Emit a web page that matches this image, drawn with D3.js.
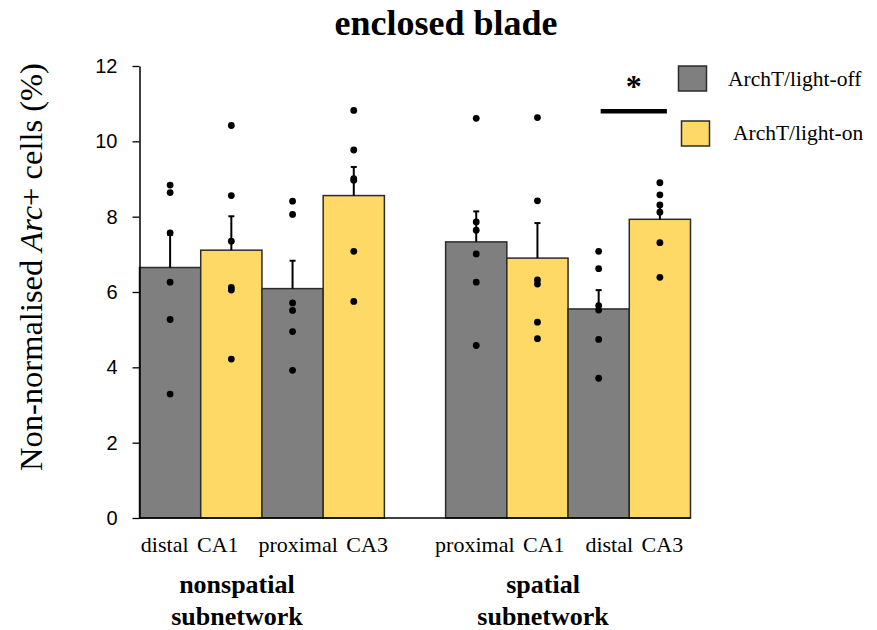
<!DOCTYPE html>
<html>
<head>
<meta charset="utf-8">
<script src="https://cdn.jsdelivr.net/npm/d3@7"></script>
<style>
  html, body { margin: 0; padding: 0; background: #fff; }
  svg { display: block; }
</style>
</head>
<body>
<svg id="chart" width="877" height="630"></svg>
<script>
// ---- data ----
const groups = ["nonspatial subnetwork", "spatial subnetwork"];
const regions = [
  ["distal CA1", "proximal CA3"],   // nonspatial
  ["proximal CA1", "distal CA3"]    // spatial
];
const series = ["ArchT/light-off", "ArchT/light-on"];
const yTicks = [0, 2, 4, 6, 8, 10, 12];

// means (%), order: distal CA1, proximal CA3, proximal CA1, distal CA3
const meanOff = [6.65, 6.09, 7.33, 5.55];
const meanOn  = [7.11, 8.56, 6.90, 7.93];
// standard error of the mean
const semOff = [0.87, 0.74, 0.81, 0.50];
const semOn  = [0.90, 0.76, 0.93, 0.38];
// individual animals
const pointsOff = [
  [8.84, 8.64, 7.57, 6.26, 5.27, 3.29],
  [8.41, 8.06, 5.71, 5.51, 4.95, 3.92],
  [10.61, 7.86, 7.64, 7.01, 6.26, 4.58],
  [7.08, 6.62, 5.64, 5.52, 4.74, 3.71]
];
const pointsOn = [
  [10.42, 8.56, 7.35, 6.12, 6.05, 4.22],
  [10.82, 9.77, 9.01, 8.97, 7.08, 5.75],
  [10.63, 8.42, 6.32, 6.21, 5.20, 4.76],
  [8.90, 8.58, 8.31, 8.12, 7.31, 6.39]
];
// significant comparison: distal CA3, light-off vs light-on
const sigRegion = 3;
const sigLevel = 10.8;
const sigMark = "*";

// ---- layout ----
const colors = { "ArchT/light-off": "#7f7f7f", "ArchT/light-on": "#fed966" };
const serif = "'Liberation Serif', 'Times New Roman', serif";
const sans = "'Liberation Sans', Arial, sans-serif";

const svg = d3.select("#chart");

// build bar records; one empty slot separates the two subnetworks
const bars = [];
const slots = [];
let r = 0;
groups.forEach((g, gi) => {
  if (gi > 0) slots.push("gap" + gi);
  regions[gi].forEach(reg => {
    [["ArchT/light-off", meanOff, semOff, pointsOff], ["ArchT/light-on", meanOn, semOn, pointsOn]]
      .forEach(([s, m, e, p]) => {
        const key = reg + "|" + s;
        slots.push(key);
        bars.push({ key, group: g, region: reg, ri: r, series: s, mean: m[r], sem: e[r], pts: p[r] });
      });
    r++;
  });
});

const x = d3.scaleBand().domain(slots).range([139.5, 690.5]).padding(0);
const y = d3.scaleLinear().domain([0, 12]).range([518, 66]);

// title
svg.append("text")
  .attr("x", 446).attr("y", 35)
  .attr("text-anchor", "middle")
  .style("font-family", serif).style("font-weight", "bold").style("font-size", "36px")
  .text("enclosed blade");

// bars
svg.append("g").selectAll("rect").data(bars).join("rect")
  .attr("x", d => x(d.key))
  .attr("y", d => y(d.mean))
  .attr("width", x.bandwidth())
  .attr("height", d => y(0) - y(d.mean))
  .attr("fill", d => colors[d.series])
  .attr("stroke", "#2b2b2b").attr("stroke-width", 1.5);

// error bars (upper)
const eb = svg.append("g").attr("stroke", "#000").attr("stroke-width", 2);
bars.forEach(d => {
  const cx = x(d.key) + x.bandwidth() / 2;
  eb.append("line").attr("x1", cx).attr("x2", cx)
    .attr("y1", y(d.mean)).attr("y2", y(d.mean + d.sem));
  eb.append("line").attr("x1", cx - 3).attr("x2", cx + 3)
    .attr("y1", y(d.mean + d.sem)).attr("y2", y(d.mean + d.sem));
});

// individual points
svg.append("g").selectAll("circle")
  .data(bars.flatMap(d => d.pts.map(v => ({ key: d.key, v }))))
  .join("circle")
  .attr("cx", d => x(d.key) + x.bandwidth() / 2)
  .attr("cy", d => y(d.v))
  .attr("r", 3.4)
  .attr("fill", "#000");

// y axis
const yAxis = svg.append("g")
  .attr("transform", "translate(139.5,0)")
  .call(d3.axisLeft(y).tickValues(yTicks).tickSize(7).tickSizeOuter(0).tickPadding(15));
yAxis.select(".domain").attr("stroke", "#000").attr("stroke-width", 1.5);
yAxis.selectAll(".tick line").attr("stroke", "#000").attr("stroke-width", 1.3);
yAxis.selectAll(".tick text")
  .style("font-family", sans).style("font-size", "20px").attr("fill", "#000");

// baseline
svg.append("line")
  .attr("x1", 139.5).attr("x2", x.range()[1])
  .attr("y1", y(0)).attr("y2", y(0))
  .attr("stroke", "#000").attr("stroke-width", 1.5);

// y label
const yl = svg.append("text")
  .attr("transform", "translate(42,267) rotate(-90)")
  .attr("text-anchor", "middle")
  .style("font-family", serif).style("font-size", "32.5px");
yl.append("tspan").text("Non-normalised ");
yl.append("tspan").style("font-style", "italic").text("Arc");
yl.append("tspan").text("+ cells (%)");

// region labels under each pair of bars
const regionNudge = [-11, 0, -7, 5];
regions.flat().forEach((reg, i) => {
  const k1 = reg + "|ArchT/light-off", k2 = reg + "|ArchT/light-on";
  const cx = (x(k1) + x(k2) + x.bandwidth()) / 2 + regionNudge[i];
  svg.append("text")
    .attr("x", cx).attr("y", 552)
    .attr("text-anchor", "middle")
    .style("font-family", serif).style("font-size", "22px")
    .style("word-spacing", "3px")
    .text(reg);
});

// subnetwork labels
groups.forEach((g, gi) => {
  const ks = regions[gi].flatMap(reg => [reg + "|ArchT/light-off", reg + "|ArchT/light-on"]);
  const cx = (x(ks[0]) + x(ks[ks.length - 1]) + x.bandwidth()) / 2 - 25;
  const words = g.split(" ");
  words.forEach((w, wi) => {
    svg.append("text")
      .attr("x", cx).attr("y", 593 + wi * 32)
      .attr("text-anchor", "middle")
      .style("font-family", serif).style("font-weight", "bold").style("font-size", "26px")
      .text(w);
  });
});

// significance bar
{
  const reg = regions.flat()[sigRegion];
  const x1 = x(reg + "|ArchT/light-off") + x.bandwidth() / 2 + 2;
  const x2 = x(reg + "|ArchT/light-on") + x.bandwidth() / 2 + 7;
  svg.append("line")
    .attr("x1", x1).attr("x2", x2)
    .attr("y1", y(sigLevel)).attr("y2", y(sigLevel))
    .attr("stroke", "#000").attr("stroke-width", 4.5);
  svg.append("text")
    .attr("x", (x1 + x2) / 2).attr("y", y(sigLevel) - 14)
    .attr("text-anchor", "middle")
    .style("font-family", serif).style("font-weight", "bold").style("font-size", "32px")
    .text(sigMark);
}

// legend
const legend = svg.append("g");
const legendPos = [{ bx: 678.5, by: 66, tx: 728, ty: 86 }, { bx: 681.5, by: 121, tx: 733, ty: 140 }];
series.forEach((s, i) => {
  const p = legendPos[i];
  legend.append("rect")
    .attr("x", p.bx).attr("y", p.by).attr("width", 28).attr("height", 25)
    .attr("fill", colors[s]).attr("stroke", "#2b2b2b").attr("stroke-width", 1.5);
  legend.append("text")
    .attr("x", p.tx).attr("y", p.ty)
    .style("font-family", serif).style("font-size", "21.5px")
    .text(s);
});
</script>
</body>
</html>
